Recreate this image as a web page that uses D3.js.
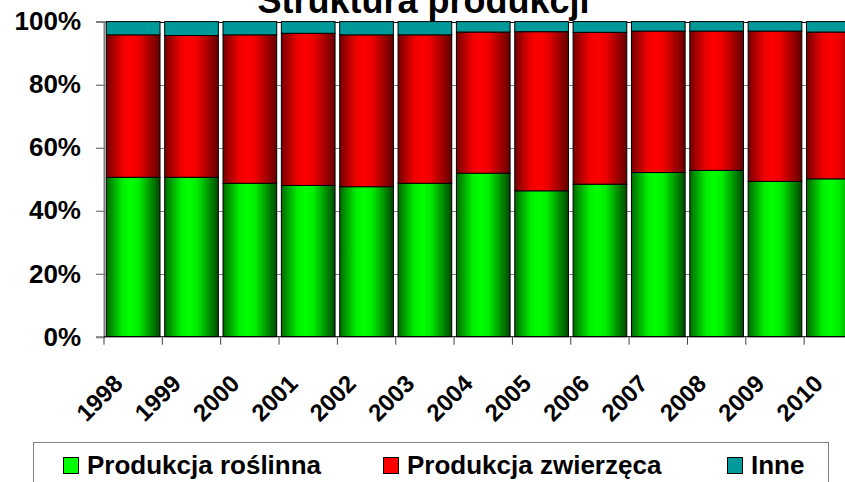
<!DOCTYPE html>
<html>
<head>
<meta charset="utf-8">
<script src="https://cdn.jsdelivr.net/npm/d3@7"></script>
<style>
  body { margin: 0; background: #fff; }
  svg { display: block; font-family: "Liberation Sans", Arial, sans-serif; font-weight: bold; }
</style>
</head>
<body>
<svg id="chart" width="845" height="482"></svg>
<script>
const years = ['1998', '1999', '2000', '2001', '2002', '2003', '2004', '2005', '2006', '2007', '2008', '2009', '2010']
const roslinna = [50.6, 50.6, 48.7, 48.0, 47.6, 48.7, 51.9, 46.3, 48.4, 52.1, 52.8, 49.3, 50.1]
const zwierzeca = [45.2, 45.0, 47.1, 48.3, 48.2, 47.1, 44.8, 50.5, 48.2, 44.9, 44.2, 47.7, 46.6]
const inne = [4.2, 4.4, 4.2, 3.7, 4.2, 4.2, 3.3, 3.2, 3.4, 3.0, 3.0, 3.0, 3.3]
const seriesNames = ['Produkcja roślinna', 'Produkcja zwierzęca', 'Inne']
const yTicks = [0, 20, 40, 60, 80, 100]

const rows = years.map((y, i) => ({
  year: y,
  roslinna: roslinna[i],
  zwierzeca: zwierzeca[i],
  inne: inne[i]
}))
const keys = ['roslinna', 'zwierzeca', 'inne']

const svg = d3.select('#chart')
const plotLeft = 104
const plotRight = 862.5
const plotTop = 21.6
const plotBottom = 336.7

const x = d3.scaleBand()
  .domain(years)
  .range([plotLeft, plotRight])
  .paddingInner(0.08)
  .paddingOuter(0.04)

const y = d3.scaleLinear()
  .domain([0, 100])
  .range([plotBottom, plotTop])

// gradients for the cylinder look
const defs = svg.append('defs')
function grad(id, stops) {
  const g = defs.append('linearGradient').attr('id', id)
    .attr('x1', '0%').attr('x2', '100%').attr('y1', '0%').attr('y2', '0%')
  stops.forEach(s => g.append('stop').attr('offset', s[0]).attr('stop-color', s[1]))
}
grad('gGreen', [['0%', '#006a00'], ['30%', '#00ee00'], ['45%', '#00ff00'], ['60%', '#00ee00'], ['100%', '#004800']])
grad('gRed', [['0%', '#760000'], ['30%', '#ee0000'], ['45%', '#ff0000'], ['60%', '#ee0000'], ['100%', '#640000']])

const fills = { roslinna: 'url(#gGreen)', zwierzeca: 'url(#gRed)', inne: '#009999' }
const swatch = ['#00ff00', '#ff0000', '#009999']

// gridlines
svg.append('g')
  .selectAll('line')
  .data(yTicks.filter(t => t > 0))
  .enter()
  .append('line')
  .attr('x1', plotLeft - 8)
  .attr('x2', 845)
  .attr('y1', d => Math.round(y(d)) + 0.5)
  .attr('y2', d => Math.round(y(d)) + 0.5)
  .attr('stroke', d => d === 100 ? '#000' : '#808080')
  .attr('stroke-width', 1)

// stacked bars
const stack = d3.stack().keys(keys)(rows)
svg.append('g')
  .selectAll('g')
  .data(stack)
  .enter()
  .append('g')
  .attr('fill', d => fills[d.key])
  .selectAll('rect')
  .data(d => d)
  .enter()
  .append('rect')
  .attr('x', d => x(d.data.year))
  .attr('y', d => y(d[1]))
  .attr('width', x.bandwidth())
  .attr('height', d => y(d[0]) - y(d[1]))
  .attr('stroke', '#000')
  .attr('stroke-width', 1)

// y axis
const yAxis = d3.axisLeft(y)
  .tickValues(yTicks)
  .tickFormat(d => d + '%')
  .tickSize(8)
  .tickPadding(15)

svg.append('g')
  .attr('transform', `translate(${plotLeft}, 0)`)
  .call(yAxis)
  .call(g => g.select('.domain').attr('stroke', '#808080').attr('stroke-width', 2))
  .call(g => g.selectAll('.tick line').attr('stroke', '#808080'))
  .call(g => g.selectAll('text')
    .attr('fill', '#000')
    .style('font-size', '26px')
    .style('font-weight', 'bold')
    .style('font-family', '"Liberation Sans", Arial, sans-serif'))

// x axis baseline + ticks at category boundaries
svg.append('line')
  .attr('x1', plotLeft).attr('x2', 845)
  .attr('y1', plotBottom).attr('y2', plotBottom)
  .attr('stroke', '#000')

const step = x.step()
const bounds = years.map((d, i) => plotLeft + i * step)
svg.append('g')
  .selectAll('line')
  .data(bounds)
  .enter()
  .append('line')
  .attr('x1', d => d).attr('x2', d => d)
  .attr('y1', plotBottom).attr('y2', plotBottom + 8)
  .attr('stroke', '#404040')

svg.append('g')
  .selectAll('text')
  .data(years)
  .enter()
  .append('text')
  .text(d => d)
  .attr('text-anchor', 'end')
  .style('font-size', '24px')
  .attr('transform', d => `translate(${x(d) + x.bandwidth() / 2 - 9}, 385) rotate(-45)`)

// title
svg.append('text')
  .text('Struktura produkcji')
  .attr('x', 423.5)
  .attr('y', 13)
  .attr('text-anchor', 'middle')
  .style('font-size', '36px')

// legend
svg.append('rect')
  .attr('x', 33.5).attr('y', 442.5)
  .attr('width', 795).attr('height', 60)
  .attr('fill', 'none')
  .attr('stroke', '#808080')

const legendX = [63, 383, 727]
const legend = svg.append('g')
  .selectAll('g')
  .data(seriesNames)
  .enter()
  .append('g')
  .attr('transform', (d, i) => `translate(${legendX[i]}, 0)`)

legend.append('rect')
  .attr('x', 0.5).attr('y', 457.5)
  .attr('width', 15).attr('height', 16)
  .attr('fill', (d, i) => swatch[i])
  .attr('stroke', '#000')

legend.append('text')
  .text(d => d)
  .attr('x', 24)
  .attr('y', 474)
  .style('font-size', '26px')
</script>
</body>
</html>
